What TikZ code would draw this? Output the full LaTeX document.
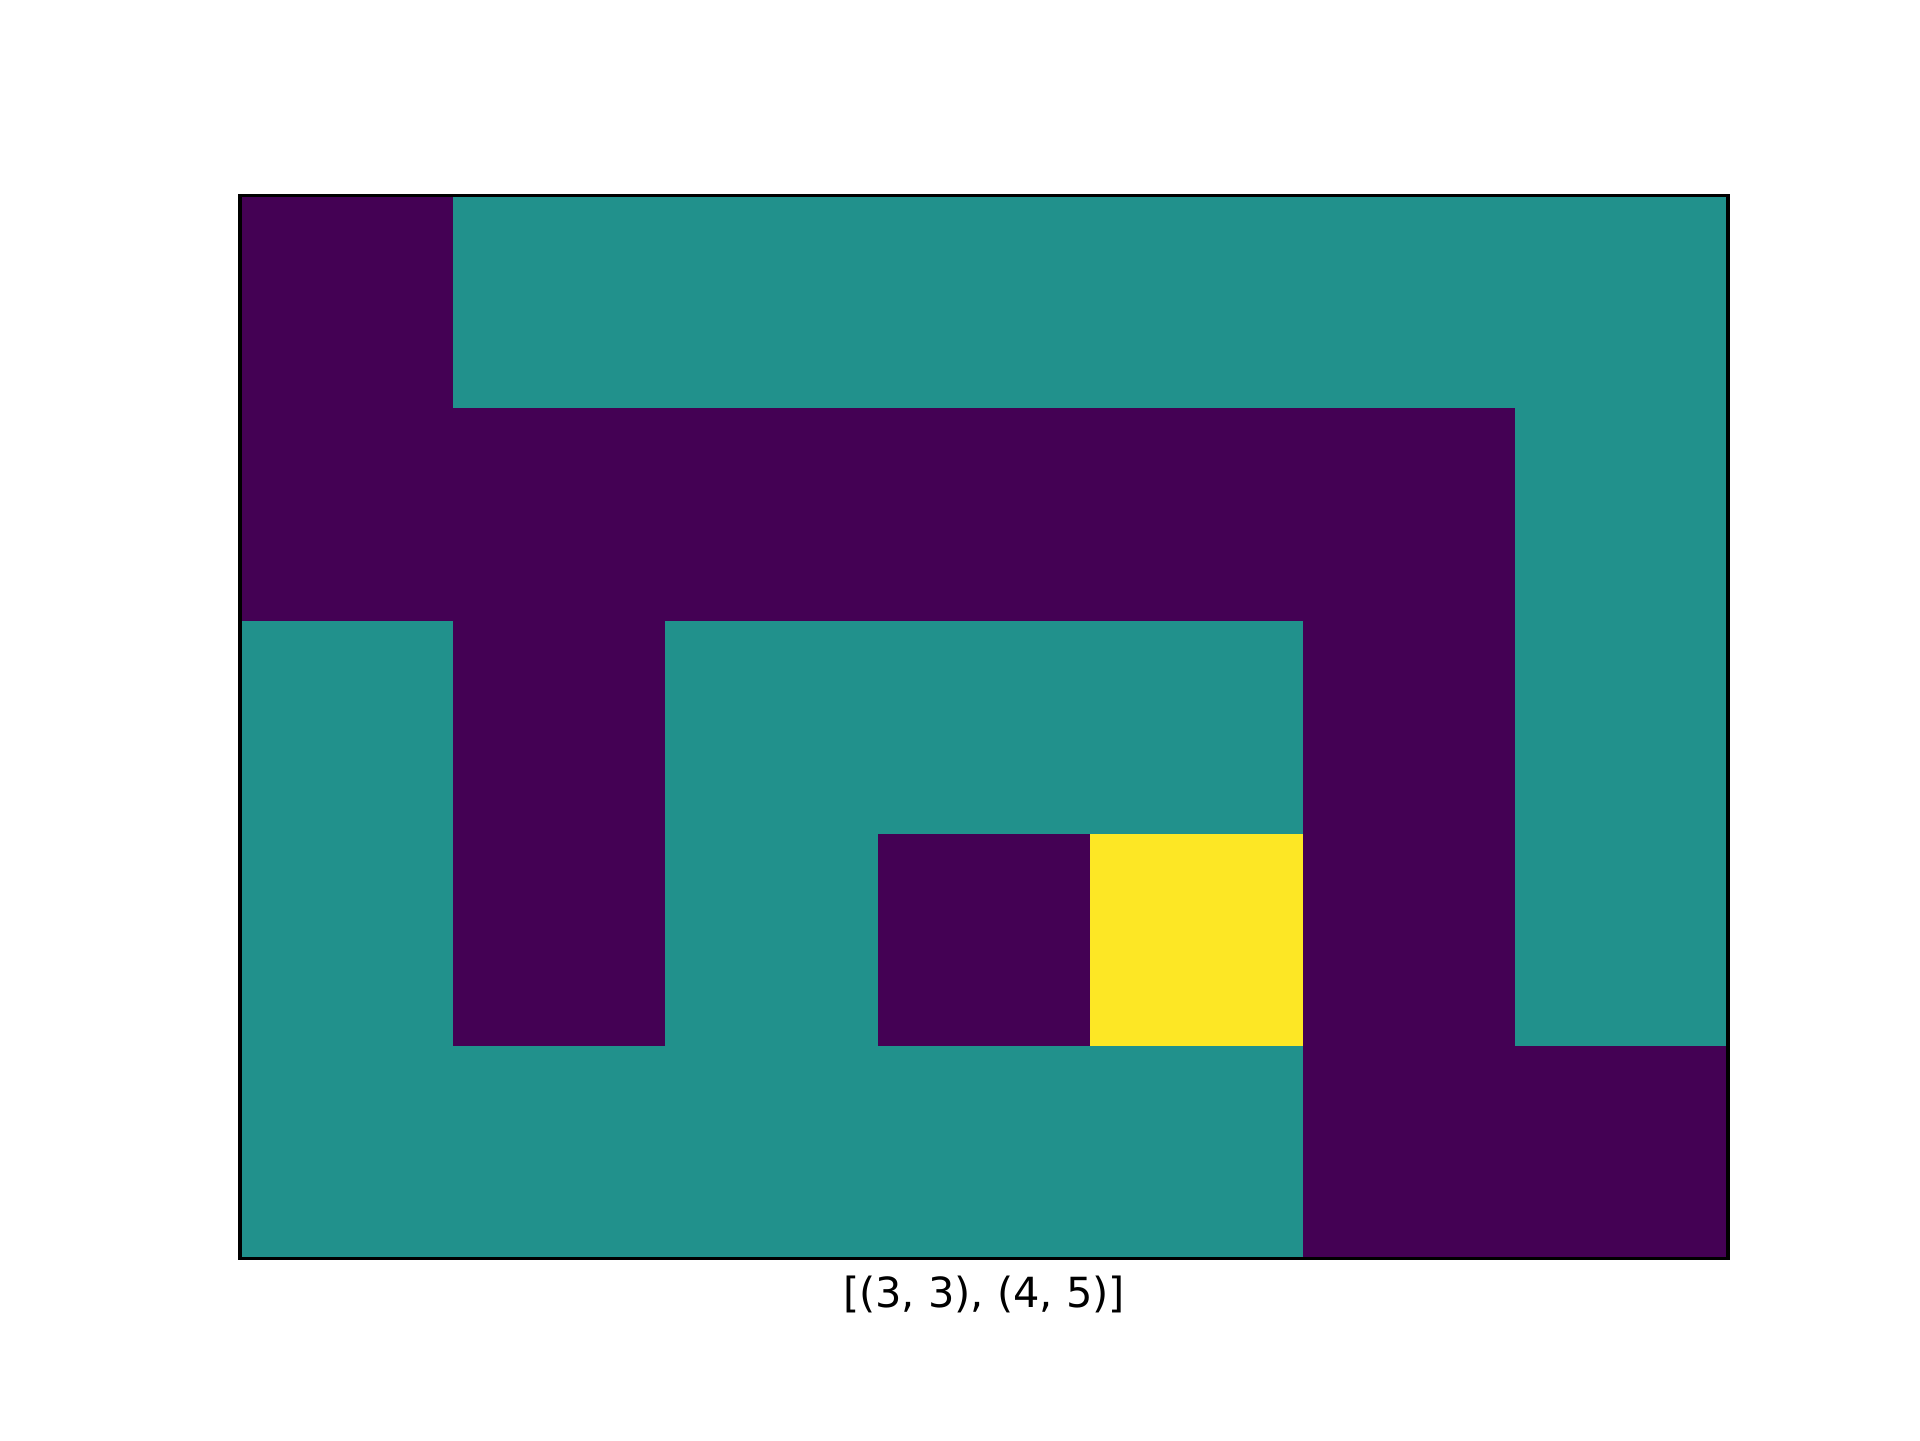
\documentclass[tikz,border=0pt]{standalone}
\usepackage{fontspec}
\setmainfont{DejaVu Sans}
\definecolor{wall}{HTML}{440154}
\definecolor{path}{HTML}{21918C}
\definecolor{goal}{HTML}{FDE725}
\begin{document}
\begin{tikzpicture}[x=6.4in/1920,y=-4.8in/1440,line join=miter]
    \useasboundingbox (0,0) rectangle (1920,1440);
    % grid of 7 x 5 cells, row 0 on top
    \def\cw{212.57}
    \foreach \row/\cols in {0/{wall,path,path,path,path,path,path},
                            1/{wall,wall,wall,wall,wall,wall,path},
                            2/{path,wall,path,path,path,wall,path},
                            3/{path,wall,path,wall,goal,wall,path},
                            4/{path,path,path,path,path,wall,wall}}
        \foreach \c [count=\i from 0] in \cols
            \fill[\c] ({240+\i*\cw},{195.8+\row*\cw}) rectangle ++(\cw+.5,\cw+.5);
    \draw[line width=0.8pt] (240,195.8) rectangle (1728,1258.6);
    \coordinate (axbot) at (984,1258.6);
    \node[anchor=north,inner sep=0pt,font=\fontsize{10}{12}\selectfont] (lbl) at ([yshift=-4pt]axbot) {[(3, 3), (4, 5)]};
\end{tikzpicture}
\end{document}
